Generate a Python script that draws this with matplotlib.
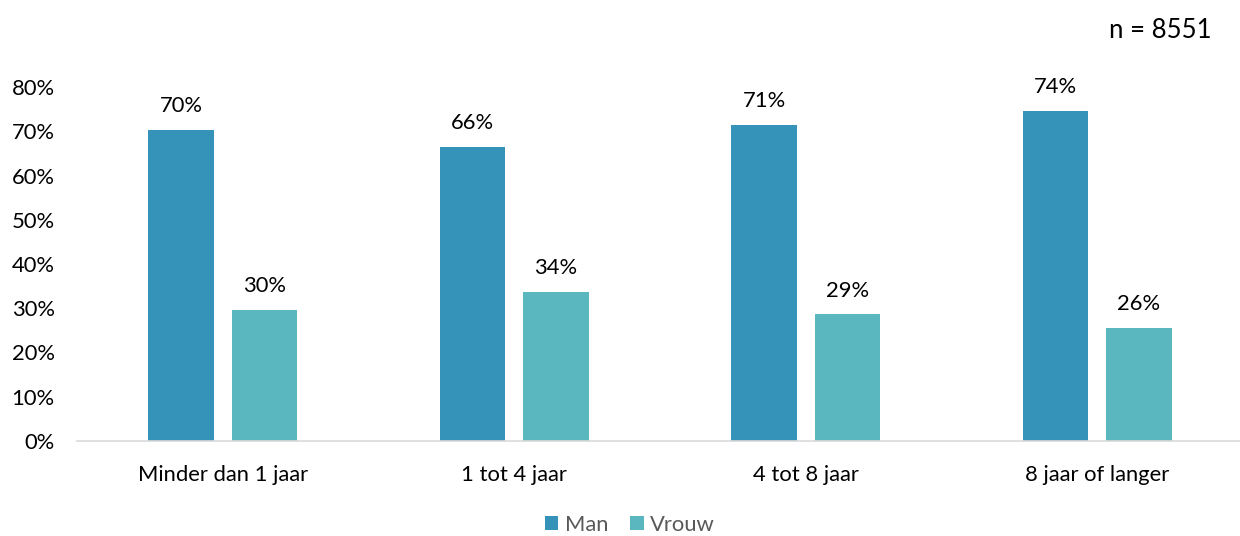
import matplotlib
matplotlib.use("Agg")
import matplotlib.pyplot as plt
import numpy as np

categories = ["Minder dan 1 jaar", "1 tot 4 jaar", "4 tot 8 jaar", "8 jaar of langer"]
man = [70.3, 66.4, 71.4, 74.5]
vrouw = [29.7, 33.6, 28.6, 25.5]
series_names = ["Man", "Vrouw"]
colors = ["#3593B9", "#5AB6BF"]
yticks = [0, 10, 20, 30, 40, 50, 60, 70, 80]

plt.rcParams['font.family'] = ['Lato', 'DejaVu Sans']
FS = 15.8

fig = plt.figure(figsize=(12.4, 5.36), dpi=100)
ax = fig.add_axes([77/1240, 1 - 441/536, 1166/1240, 354/536])

x = np.arange(len(categories))
w = 0.224
off = 0.143
b1 = ax.bar(x - off, man, w, color=colors[0], label=series_names[0])
b2 = ax.bar(x + off, vrouw, w, color=colors[1], label=series_names[1])

for bars, vals in ((b1, man), (b2, vrouw)):
    for b, v in zip(bars, vals):
        ax.annotate(f"{round(v):d}%", (b.get_x() + b.get_width() / 2, v),
                    xytext=(0, 10), textcoords="offset points",
                    ha="center", va="bottom", fontsize=FS, color="#000000")

ax.set_xlim(-0.5, len(categories) - 0.5)
ax.set_ylim(0, 80)
ax.set_yticks(yticks)
ax.set_yticklabels([f"{t}%" for t in yticks], fontsize=FS)
ax.set_xticks(x)
ax.set_xticklabels(categories, fontsize=FS)
ax.tick_params(axis="both", length=0, colors="#000000")
ax.tick_params(axis="x", pad=17)
ax.tick_params(axis="y", pad=16)
for s in ["top", "right", "left"]:
    ax.spines[s].set_visible(False)
ax.spines["bottom"].set_color("#D9D9D9")
ax.spines["bottom"].set_linewidth(1.2)

fig.text(1212/1240, 1 - 31/536, "n = 8551", ha="right", va="center", fontsize=18.5, color="#000000")

leg = fig.legend(loc="center", bbox_to_anchor=(630/1240, 1 - 525/536), ncol=2, frameon=False,
                 fontsize=FS, handlelength=0.6, handleheight=0.6, handletextpad=0.3,
                 columnspacing=1.0, labelcolor="#595959")

fig.savefig("out.png", dpi=100)
